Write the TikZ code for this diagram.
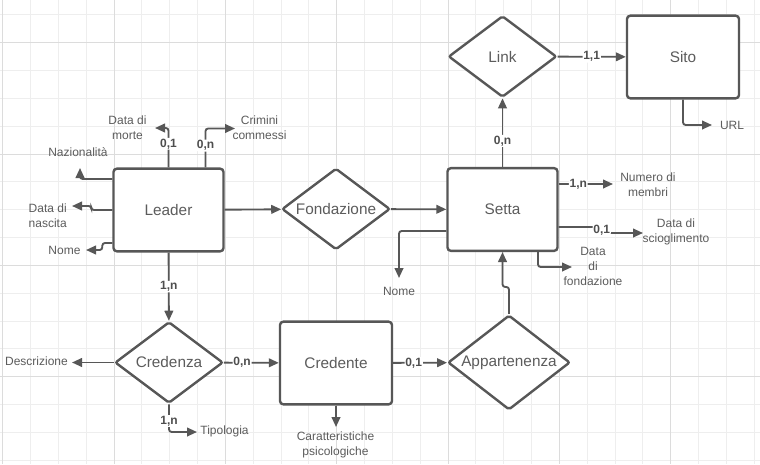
\documentclass[tikz,border=0pt]{standalone}
\usepackage{fontspec}
\setmainfont{Liberation Sans}
\usepackage{xcolor}
\usetikzlibrary{shapes.geometric, arrows.meta, positioning, calc}
\definecolor{linegray}{HTML}{575757}
\definecolor{textgray}{HTML}{5C5C5C}
\definecolor{gridminor}{HTML}{EEEEEE}
\definecolor{gridmajor}{HTML}{DCDCDC}

\begin{document}
\begin{tikzpicture}[
    x=0.75pt, y=-0.75pt,
    entity/.style={rectangle, draw=linegray, line width=1.8pt, fill=white, rounded corners=2.5pt, minimum width=82.5pt, minimum height=62pt, text=textgray, font=\fontsize{11.5}{13}\selectfont},
    relation/.style={diamond, aspect=1.33, draw=linegray, line width=1.8pt, fill=white, rounded corners=1.5pt, minimum width=81pt, minimum height=61pt, inner sep=0pt, text=textgray, font=\fontsize{11.5}{13}\selectfont},
    attr/.style={align=center, text=textgray, font=\fontsize{9}{11}\selectfont},
    card/.style={fill=white, inner sep=0.6pt, text=linegray!90!black, font=\bfseries\fontsize{9}{10}\selectfont},
    conn/.style={-{Triangle[length=7.5pt, width=6.5pt]}, draw=linegray, line width=1.4pt, rounded corners=2pt}
]

% Background and grid
\useasboundingbox (0,0) rectangle (760,464);
\fill[white] (0,0) rectangle (760,464);
\foreach \i in {0,...,27}
    \draw[gridminor, line width=0.75pt] ({2.8+27.83*\i},0) -- ({2.8+27.83*\i},464);
\foreach \j in {0,...,16}
    \draw[gridminor, line width=0.75pt] (0,{14.9+27.83*\j}) -- (760,{14.9+27.83*\j});
\foreach \i in {0,...,6}
    \draw[gridmajor, line width=0.75pt] ({2.8+111.32*\i},0) -- ({2.8+111.32*\i},464);
\foreach \j in {0,...,3}
    \draw[gridmajor, line width=0.75pt] (0,{42.7+111.32*\j}) -- (760,{42.7+111.32*\j});

% Entities and relations
\node[entity] (leader) at (168.5,210) {Leader};
\node[relation] (fondazione) at (336,209) {Fondazione};
\node[entity] (setta) at (502.5,209.5) {Setta};
\node[relation] (link) at (502.5,56.5) {Link};
\node[entity, minimum width=84pt] (sito) at (683,57) {Sito};
\node[relation] (credenza) at (169,362.5) {Credenza};
\node[entity, minimum width=84pt] (credente) at (336,363) {Credente};
\node[relation, aspect=1.29, minimum width=91.5pt, minimum height=71pt] (appartenenza) at (509,362.5) {Appartenenza};

% Attributes
\node[attr] (morte) at (127.5,128) {Data di\\morte};
\node[attr] (crimini) at (259.5,127.5) {Crimini\\commessi};
\node[attr] (nazionalita) at (78,152.5) {Nazionalità};
\node[attr, anchor=west, align=left] (nascita) at (24,216) {Data di\\nascita};
\node[attr] (nomeLeader) at (64.5,250) {Nome};
\node[attr] (membri) at (648,184.5) {Numero di\\membri};
\node[attr] (scioglimento) at (676,232) {Data di\\scioglimento};
\node[attr] (dataFond) at (593,266.5) {Data\\di\\fondazione};
\node[attr] (nomeSetta) at (399,291.5) {Nome};
\node[attr] (url) at (732,125.5) {URL};
\node[attr] (descrizione) at (36.5,361.5) {Descrizione};
\node[attr] (tipologia) at (224.5,431) {Tipologia};
\node[attr] (caratt) at (335.5,445) {Caratteristiche\\psicologiche};

% Arrow ends
\coordinate (morteTip) at (155,128);
\coordinate (criminiTip) at (235,128.5);
\coordinate (nazTip) at (80,168);
\coordinate (nascitaTip) at (72,206);
\coordinate (nomeLTip) at (86,250);
\coordinate (membriTip) at (613,184);
\coordinate (sciogTip) at (643,233);
\coordinate (fondTip) at (572,267);
\coordinate (nomeSTip) at (399,278);
\coordinate (urlTip) at (712,125);
\coordinate (descTip) at (72,362.5);
\coordinate (tipoTip) at (197,432);
\coordinate (carattTip) at (336,427);

% Relationships
\draw[conn] (leader) -- (fondazione);
\draw[conn] (fondazione) -- (setta);
\draw[conn] (setta) -- node[card, pos=0.38] {0,n} (link);
\draw[conn] (link) -- node[card] {1,1} (sito);
\draw[conn] (leader) -- node[card] {1,n} (credenza);
\draw[conn] (credenza) -- node[card, pos=0.33] {0,n} (credente);
\draw[conn] (credente) -- node[card, pos=0.38] {0,1} (appartenenza);
\draw[conn] (appartenenza.north) -- ++(0,-27) -| (setta.south);

% Leader attributes
\draw[conn] (leader.north) |- node[card, pos=0.3] {0,1} (morteTip);
\draw[conn] ($(leader.north)+(37,0)$) |- node[card, pos=0.28] {0,n} (criminiTip);
\draw[conn] ($(leader.west)+(0,-31)$) -| (nazTip);
\draw[conn] (leader.west) -- ++(-21,0) |- (nascitaTip);
\draw[conn] ($(leader.west)+(0,33)$) -- ++(-10,0) |- (nomeLTip);

% Setta and Sito attributes
\draw[conn] ($(setta.east)+(0,-25.5)$) -- node[card, pos=0.36] {1,n} (membriTip);
\draw[conn] ($(setta.east)+(0,17.5)$) -- ++(43,0) |- node[card, pos=0.25] {0,1} (sciogTip);
\draw[conn] ($(setta.south)+(35.5,0)$) |- (fondTip);
\draw[conn] ($(setta.west)+(0,21.5)$) -| (nomeSTip);
\draw[conn] (sito.south) |- (urlTip);

% Credenza and Credente attributes
\draw[conn] (credenza) -- (descTip);
\draw[conn] (credenza.south) |- node[card, pos=0.3] {1,n} (tipoTip);
\draw[conn] (credente) -- (carattTip);

\end{tikzpicture}
\end{document}
